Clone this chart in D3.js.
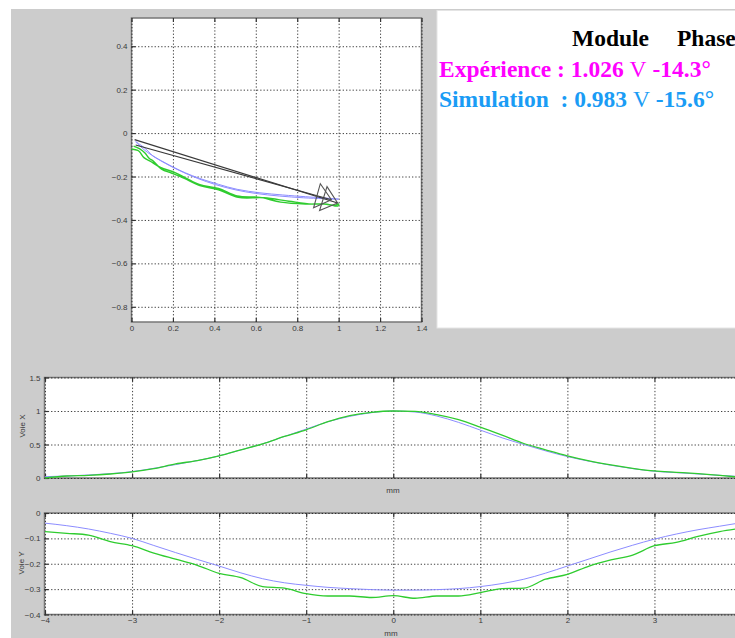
<!DOCTYPE html>
<html lang="en">
<head>
<meta charset="UTF-8">
<title>Voie X / Voie Y</title>
<style>
    body { margin: 0; background: #fff; }
    svg { display: block; }
    .lab text { font-family: "Liberation Sans", Arial, sans-serif; font-size: 8px; fill: #3a3a3a; }
    .lab path, .lab line { display: none; }
    .grid line { stroke: #111; stroke-dasharray: 1.3,2; stroke-width: 1; opacity: .8; }
    .grid path { display: none; }
    .tk line { stroke: #333; stroke-width: 1.2; }
    .tk path { display: none; }
    .frame { fill: #fff; stroke: #777; stroke-width: 1.5; }
    .note { font-family: "Liberation Serif", "Times New Roman", serif; font-weight: bold; font-size: 23.5px; }
    .axname { font-family: "Liberation Sans", Arial, sans-serif; font-size: 8px; fill: #3a3a3a; }
</style>
</head>
<body>
<svg id="fig" width="735" height="638"></svg>
<script src="https://cdn.jsdelivr.net/npm/d3@7/dist/d3.min.js"></script>
<script>

// scan position (mm)
var posMm = [-4, -3.75, -3.5, -3.25, -3, -2.75, -2.5, -2.25, -2, -1.75, -1.5, -1.25, -1, -0.75, -0.5, -0.25,
             0, 0.25, 0.5, 0.75, 1, 1.25, 1.5, 1.75, 2, 2.25, 2.5, 2.75, 3, 3.25, 3.5, 3.75, 4];

// Voie X
var simX = [0.02, 0.03, 0.045, 0.065, 0.095, 0.145, 0.2, 0.26, 0.33, 0.42, 0.51, 0.62, 0.73, 0.84, 0.92, 0.975,
            1.0, 0.985, 0.925, 0.83, 0.715, 0.6, 0.5, 0.405, 0.32, 0.25, 0.19, 0.14, 0.1, 0.08, 0.06, 0.04, 0.02];
var expX = [0.0, 0.03, 0.04, 0.06, 0.09, 0.14, 0.21, 0.26, 0.33, 0.42, 0.51, 0.62, 0.72, 0.84, 0.93, 0.98,
            1.0, 0.995, 0.945, 0.87, 0.76, 0.64, 0.515, 0.42, 0.33, 0.255, 0.195, 0.145, 0.105, 0.085, 0.065, 0.04, 0.01];

// Voie Y
var simY = [-0.04, -0.05, -0.063, -0.08, -0.1, -0.128, -0.156, -0.183, -0.209, -0.236, -0.259, -0.275, -0.285, -0.293, -0.298, -0.302,
            -0.304, -0.304, -0.302, -0.298, -0.29, -0.278, -0.261, -0.237, -0.209, -0.181, -0.153, -0.127, -0.103, -0.083, -0.066, -0.052, -0.038];
var expY = [-0.073, -0.08, -0.087, -0.113, -0.129, -0.158, -0.182, -0.206, -0.238, -0.255, -0.29, -0.296, -0.318, -0.327, -0.327, -0.333,
            -0.326, -0.336, -0.327, -0.327, -0.314, -0.298, -0.296, -0.261, -0.242, -0.209, -0.185, -0.166, -0.129, -0.116, -0.092, -0.073, -0.06];

// the two phasor arrows (top plot)
var arrowX0 = [0.015, 0.02], arrowY0 = [-0.03, -0.055];
var arrowX1 = [0.995, 0.965], arrowY1 = [-0.322, -0.307];

var topTicksX = [0, 0.2, 0.4, 0.6, 0.8, 1, 1.2, 1.4];
var topTicksY = [0.4, 0.2, 0, -0.2, -0.4, -0.6, -0.8];
var mmTicks = [-4, -3, -2, -1, 0, 1, 2, 3, 4];
var mmLabels = [-4, -3, -2, -1, 0, 1, 2, 3];
var voieXTicks = [0, 0.5, 1, 1.5];
var voieYTicks = [0, -0.1, -0.2, -0.3, -0.4];

var simColor = "#8c8cff", expColor = "#2fcc2f";

var svg = d3.select("#fig");

// grey figure background
svg.append("rect").attr("x", 11).attr("y", 9).attr("width", 735).attr("height", 640).attr("fill", "#cccccc");

function panel(x, y, xRange, yRange, xTicks, yTicks, xLabels) {
    var g = svg.append("g");
    g.append("rect").attr("class", "frame")
        .attr("x", xRange[0]).attr("y", yRange[1])
        .attr("width", xRange[1] - xRange[0] + 10).attr("height", yRange[0] - yRange[1]);
    var h = yRange[0] - yRange[1], w = xRange[1] - xRange[0];
    g.append("g").attr("class", "grid").attr("transform", "translate(0," + yRange[0] + ")")
        .call(d3.axisBottom(x).tickValues(xTicks).tickSize(-h).tickFormat(""));
    g.append("g").attr("class", "grid").attr("transform", "translate(" + xRange[0] + ",0)")
        .call(d3.axisLeft(y).tickValues(yTicks).tickSize(-w).tickFormat(""));
    g.append("g").attr("class", "tk").attr("transform", "translate(0," + yRange[0] + ")")
        .call(d3.axisBottom(x).tickValues(xTicks).tickSize(-4).tickFormat(""));
    g.append("g").attr("class", "tk").attr("transform", "translate(0," + yRange[1] + ")")
        .call(d3.axisTop(x).tickValues(xTicks).tickSize(-4).tickFormat(""));
    g.append("g").attr("class", "tk").attr("transform", "translate(" + xRange[0] + ",0)")
        .call(d3.axisLeft(y).tickValues(yTicks).tickSize(-4).tickFormat(""));
    g.append("g").attr("class", "lab").attr("transform", "translate(" + xRange[0] + ",0)")
        .call(d3.axisLeft(y).tickValues(yTicks).tickSize(0).tickPadding(4).tickFormat(d3.format("")));
    if (xLabels) {
        g.append("g").attr("class", "lab").attr("transform", "translate(0," + yRange[0] + ")")
            .call(d3.axisBottom(x).tickValues(xLabels).tickSize(0).tickPadding(3).tickFormat(d3.format("")));
    }
    return g;
}

// ---- top plot: Voie X vs Voie Y
var xt = d3.scaleLinear().domain([0, 1.4]).range([131.5, 421.5]);
var yt = d3.scaleLinear().domain([-0.87, 0.53]).range([322, 18]);
var gTop = panel(xt, yt, [131.5, 421.5], [322, 18], topTicksX, topTicksY, topTicksX);
gTop.select(".frame").attr("width", 290);

var lis = function (xs, ys) {
    return d3.line().curve(d3.curveCatmullRom)
        .x(function (d, i) { return xt(xs[i]); })
        .y(function (d, i) { return yt(ys[i]); })(posMm);
};
gTop.append("path").attr("d", lis(simX, simY)).attr("fill", "none").attr("stroke", simColor).attr("stroke-width", 1);
gTop.append("path").attr("d", lis(expX, expY)).attr("fill", "none").attr("stroke", expColor).attr("stroke-width", 1.4);

arrowX0.forEach(function (d, i) {
    var x0 = xt(arrowX0[i]), y0 = yt(arrowY0[i]), x1 = xt(arrowX1[i]), y1 = yt(arrowY1[i]);
    var len = Math.hypot(x1 - x0, y1 - y0), ux = (x1 - x0) / len, uy = (y1 - y0) / len;
    var bx = x1 - ux * 15, by = y1 - uy * 15, hw = 12.5;
    gTop.append("line").attr("x1", x0).attr("y1", y0).attr("x2", x1).attr("y2", y1)
        .attr("stroke", "#3a3a3a").attr("stroke-width", 1.2);
    gTop.append("path")
        .attr("d", "M" + x1 + "," + y1 + "L" + (bx - uy * hw) + "," + (by + ux * hw) +
                   "L" + (bx + uy * hw) + "," + (by - ux * hw) + "Z")
        .attr("fill", "none").attr("stroke", "#555").attr("stroke-width", 1.1);
});

// ---- text box
svg.append("rect").attr("x", 437).attr("y", 10.5).attr("width", 310).attr("height", 317.5)
    .attr("fill", "#fff").attr("stroke", "#e4e4e4").attr("stroke-width", 1);
var note = svg.append("text").attr("class", "note");
note.append("tspan").attr("x", 572).attr("y", 46).attr("fill", "#000").text("Module");
note.append("tspan").attr("x", 677).attr("y", 46).attr("fill", "#000").text("Phase");
var l1 = svg.append("text").attr("class", "note").attr("x", 439).attr("y", 77).attr("fill", "#ff00ff");
l1.append("tspan").text("Expérience : 1.026 ");
l1.append("tspan").attr("font-weight", "normal").text("V");
l1.append("tspan").text(" -14.3°");
var l2 = svg.append("text").attr("class", "note").attr("x", 439).attr("y", 107).attr("fill", "#1a9cf5");
l2.append("tspan").text("Simulation\u00a0 : 0.983 ");
l2.append("tspan").attr("font-weight", "normal").text("V");
l2.append("tspan").text(" -15.6°");

// ---- Voie X
var xb = d3.scaleLinear().domain([-4, 4]).range([45, 741.5]);
var yx = d3.scaleLinear().domain([0, 1.5]).range([478, 377.5]);
var gX = panel(xb, yx, [44.5, 741.5], [478, 377.5], mmTicks, voieXTicks, null);
var prof = function (ys, sy) {
    return d3.line().curve(d3.curveMonotoneX)
        .x(function (d) { return xb(d); })
        .y(function (d, i) { return sy(ys[i]); })(posMm);
};
gX.append("path").attr("d", prof(simX, yx)).attr("fill", "none").attr("stroke", simColor).attr("stroke-width", 1);
gX.append("path").attr("d", prof(expX, yx)).attr("fill", "none").attr("stroke", expColor).attr("stroke-width", 1.3);
svg.append("text").attr("class", "axname").attr("x", 393).attr("y", 493).attr("text-anchor", "middle").text("mm");
svg.append("text").attr("class", "axname").attr("transform", "translate(25,426) rotate(-90)")
    .attr("text-anchor", "middle").text("Voie X");

// ---- Voie Y
var yy = d3.scaleLinear().domain([-0.4, 0]).range([614.5, 513]);
var gY = panel(xb, yy, [44.5, 741.5], [614.5, 513], mmTicks, voieYTicks, mmLabels);
gY.append("path").attr("d", prof(simY, yy)).attr("fill", "none").attr("stroke", simColor).attr("stroke-width", 1);
gY.append("path").attr("d", prof(expY, yy)).attr("fill", "none").attr("stroke", expColor).attr("stroke-width", 1.3);
svg.append("text").attr("class", "axname").attr("x", 391).attr("y", 636).attr("text-anchor", "middle").text("mm");
svg.append("text").attr("class", "axname").attr("transform", "translate(24,563) rotate(-90)")
    .attr("text-anchor", "middle").text("Voie Y");

</script>
</body>
</html>
